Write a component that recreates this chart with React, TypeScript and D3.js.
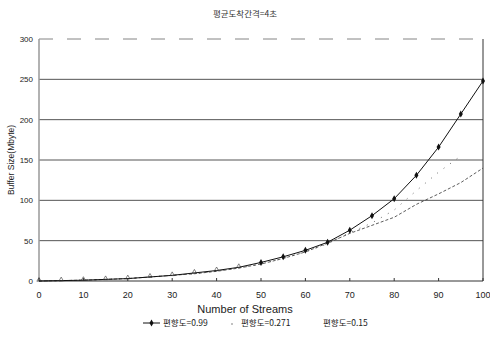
import React from "react";
import * as d3 from "d3";

const streams = [0, 5, 10, 15, 20, 25, 30, 35, 40, 45, 50, 55, 60, 65, 70, 75, 80, 85, 90, 95, 100];
const skew099 = [0, 0.5, 1, 2, 3, 5, 7, 10, 13, 17, 23, 30, 38, 48, 63, 81, 102, 131, 166, 207, 248];
const skew0271 = [0, 0.5, 1, 2, 3, 5, 7, 9, 12, 16, 21, 28, 36, 46, 60, 72, 88, 112, 135, 155];
const skew015 = [0, 0.5, 1, 2, 3, 5, 7, 9, 12, 16, 21, 28, 36, 47, 59, 69, 79, 95, 108, 122, 140];
const xTicks = [0, 10, 20, 30, 40, 50, 60, 70, 80, 90, 100];
const yTicks = [0, 50, 100, 150, 200, 250, 300];
const title = "평균도착간격=4초";
const legendLabels = ["편향도=0.99", "편향도=0.271", "편향도=0.15"];

export default function App() {
  const W = 490, H = 349;
  const left = 39, right = 483, top = 39, bottom = 281;
  const x = d3.scaleLinear().domain([0, 100]).range([left, right]);
  const y = d3.scaleLinear().domain([0, 300]).range([bottom, top]);
  const mk = (vals: number[]) =>
    d3.line<number>().x((_, i) => x(streams[i])).y((d) => y(d))(vals) || "";
  const font = "Arial, 'Liberation Sans', sans-serif";
  const kfont = "'Noto Sans CJK KR', sans-serif";
  return (
    <svg width={W} height={H} style={{ position: "absolute", left: 0, top: 0, background: "#fff" }}>
      <rect width={W} height={H} fill="#fff" />
      <text x={245} y={17} textAnchor="middle" fontFamily={kfont} fontSize={8.5} fill="#333">{title}</text>
      {yTicks.map((t) => (
        <g key={t}>
          {t > 0 && (
            <line x1={left} x2={right} y1={y(t)} y2={y(t)} stroke={t === 300 ? "#666" : "#555"}
              strokeWidth={t === 300 ? 0.8 : 1} strokeDasharray={t === 300 ? "14,14" : undefined} />
          )}
          <text x={33} y={y(t) + 3} textAnchor="end" fontFamily={font} fontSize={8} fill="#222">{t}</text>
        </g>
      ))}
      <line x1={left} x2={left} y1={top} y2={bottom} stroke="#999" strokeWidth={1.5} />
      <line x1={right} x2={right} y1={top} y2={bottom} stroke="#333" strokeWidth={1} />
      <line x1={left} x2={right} y1={bottom} y2={bottom} stroke="#333" strokeWidth={1} />
      {xTicks.map((t) => (
        <g key={t}>
          <line x1={x(t)} x2={x(t)} y1={bottom} y2={bottom - 3} stroke="#333" />
          <text x={x(t)} y={bottom + 17} textAnchor="middle" fontFamily={font} fontSize={9} fill="#222">{t}</text>
        </g>
      ))}
      <text x={245} y={313} textAnchor="middle" fontFamily={font} fontSize={11} fill="#222">Number of Streams</text>
      <text transform={`translate(14,${(top + bottom) / 2}) rotate(-90)`} textAnchor="middle" fontFamily={font} fontSize={8.5} fill="#222">Buffer Size(Mbyte)</text>
      <path d={mk(skew015)} fill="none" stroke="#333" strokeWidth={0.8} strokeDasharray="3,2" />
      <path d={mk(skew0271)} fill="none" stroke="#444" strokeWidth={0.8} strokeDasharray="1,7" />
      <path d={mk(skew099)} fill="none" stroke="#111" strokeWidth={1} />
      {skew099.map((v, i) =>
        streams[i] >= 50 ? (
          <path key={i} d={d3.symbol(d3.symbolDiamond, 14)() || ""} transform={`translate(${x(streams[i])},${y(v)})`} fill="#111" />
        ) : (
          <path key={i} d={d3.symbol(d3.symbolTriangle, 8)() || ""} transform={`translate(${x(streams[i])},${y(v) - 1})`} fill="none" stroke="#333" strokeWidth={0.6} />
        )
      )}
      <g>
        <line x1={143} x2={160} y1={323} y2={323} stroke="#111" />
        <path d={d3.symbol(d3.symbolDiamond, 14)() || ""} transform="translate(151.5,323)" fill="#111" />
        <text x={163} y={326} fontFamily={kfont} fontSize={8.5} fill="#222">{legendLabels[0]}</text>
        <circle cx={232} cy={324} r={0.7} fill="#555" />
        <text x={241} y={326} fontFamily={kfont} fontSize={8.5} fill="#222">{legendLabels[1]}</text>
        <text x={323} y={326} fontFamily={kfont} fontSize={8.5} fill="#222">{legendLabels[2]}</text>
      </g>
    </svg>
  );
}
